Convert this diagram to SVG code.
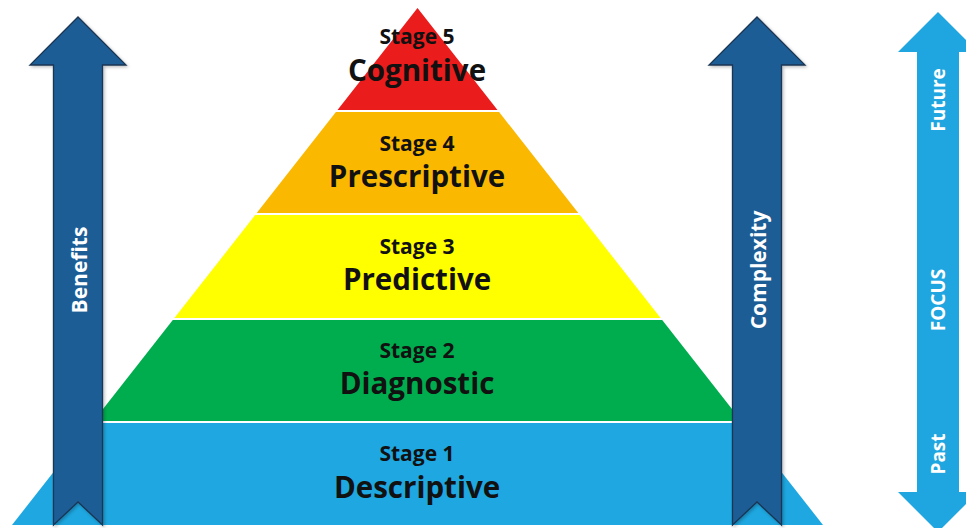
<svg xmlns="http://www.w3.org/2000/svg" width="966" height="528" viewBox="0 0 966 528">
<defs>
<style>
.band{stroke:none}
.st{font-family:"Open Sans","Liberation Sans",sans-serif;font-weight:bold;font-size:21px;fill:#111;text-anchor:middle}
.big{font-family:"Open Sans","Liberation Sans",sans-serif;font-weight:bold;font-size:29.5px;fill:#111;text-anchor:middle}
.dark{fill:#1f5d96;stroke:#1a3553;stroke-width:1.3;stroke-linejoin:miter}
.light{fill:#1fa6e0;stroke:none}
.lbl{font-family:"Open Sans","Liberation Sans",sans-serif;font-weight:bold;font-size:21px;fill:#fff;text-anchor:middle}
.flbl{font-family:"Open Sans","Liberation Sans",sans-serif;font-weight:bold;font-size:19px;fill:#fff;text-anchor:middle}
</style>
<filter id="sh" x="-20%" y="-5%" width="140%" height="110%">
<feDropShadow dx="1.5" dy="1.5" stdDeviation="1.5" flood-color="#000" flood-opacity="0.25"/>
</filter>
</defs>
<rect width="966" height="528" fill="#fff"/>
<g id="stage5">
<polygon class="band" fill="#ea1c1c" points="417.5,8 497.5,110 337.5,110"/>
<text class="st" x="417" y="44" font-size="18">Stage 5</text>
<text class="big" x="417" y="81" font-size="28">Cognitive</text>
</g>
<g id="stage4">
<polygon class="band" fill="#fbb800" points="335.9,112 499.1,112 578.3,213 256.7,213"/>
<text class="st" x="417" y="151">Stage 4</text>
<text class="big" x="417" y="187">Prescriptive</text>
</g>
<g id="stage3">
<polygon class="band" fill="#ffff00" points="255.2,215 579.8,215 660.6,318 174.4,318"/>
<text class="st" x="417" y="254">Stage 3</text>
<text class="big" x="417" y="290">Predictive</text>
</g>
<g id="stage2">
<polygon class="band" fill="#00ad4e" points="172.8,320 662.2,320 741.4,421 93.6,421"/>
<text class="st" x="417" y="358">Stage 2</text>
<text class="big" x="417" y="394">Diagnostic</text>
</g>
<g id="stage1">
<polygon class="band" fill="#1ea7e0" points="92,423 743,423 823,525 12,525"/>
<text class="st" x="417" y="461">Stage 1</text>
<text class="big" x="417" y="498">Descriptive</text>
</g>
<g id="benefits">
<path class="dark" filter="url(#sh)" d="M78,17 L126,65 L102.5,65 L102.5,525 L78,502 L53.5,525 L53.5,65 L30,65 Z"/>
<text class="lbl" transform="translate(86.5,270) rotate(-90)">Benefits</text>
</g>
<g id="complexity">
<path class="dark" filter="url(#sh)" d="M757,17 L805,65 L781.5,65 L781.5,525 L757,502 L732.5,525 L732.5,65 L709,65 Z"/>
<text class="lbl" transform="translate(765.5,270) rotate(-90)">Complexity</text>
</g>
<g id="focus">
<path class="light" d="M938,12 L978,52 L959,52 L959,492 L978,492 L938,532 L898,492 L917,492 L917,52 L898,52 Z"/>
<text class="flbl" transform="translate(945,100) rotate(-90)">Future</text>
<text class="flbl" transform="translate(945,300) rotate(-90)">FOCUS</text>
<text class="flbl" transform="translate(945,454) rotate(-90)">Past</text>
</g>
<g id="connectors"/>
</svg>
